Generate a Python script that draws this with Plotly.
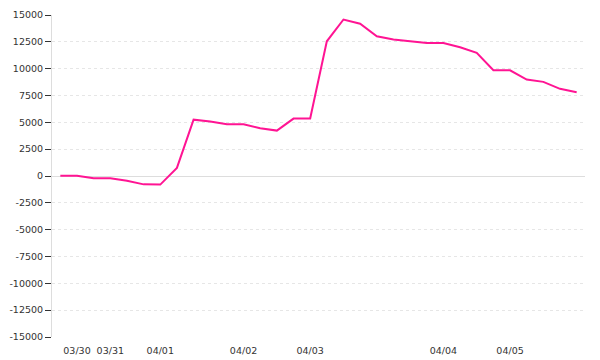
import plotly.graph_objects as go

# data
values = [30, 30, -220, -220, -440, -780, -800, 750, 5250, 5070, 4820, 4820,
          4440, 4230, 5350, 5350, 12550, 14580, 14190, 13020, 12720, 12560,
          12400, 12400, 12000, 11470, 9850, 9850, 8980, 8770, 8120, 7800]
tick_idx = [1, 3, 6, 11, 15, 23, 27]
tick_labels = ["03/30", "03/31", "04/01", "04/02", "04/03", "04/04", "04/05"]
y_ticks = list(range(-15000, 15001, 2500))

x = list(range(len(values)))

fig = go.Figure()
fig.add_trace(go.Scatter(x=x, y=values, mode="lines",
                         line=dict(color="#ff1493", width=2), hoverinfo="skip"))

font = dict(family="DejaVu Sans", size=9.5, color="#333333")
fig.update_layout(
    width=600, height=360,
    margin=dict(l=52, r=15, t=15, b=23),
    paper_bgcolor="white", plot_bgcolor="white",
    showlegend=False,
    font=font,
)
fig.update_xaxes(
    range=[-0.5, len(values) - 0.5],
    tickmode="array", tickvals=tick_idx, ticktext=tick_labels,
    showgrid=False, zeroline=False, showline=False, ticks="",
    tickfont=font, automargin=False, ticklabelstandoff=6,
)
fig.update_yaxes(
    range=[-15000, 15000],
    tickmode="array", tickvals=y_ticks, ticktext=[str(v) for v in y_ticks],
    showgrid=True, gridcolor="#e6e6e6", griddash="dot", gridwidth=1,
    zeroline=True, zerolinecolor="#dddddd", zerolinewidth=1,
    showline=True, linecolor="#dddddd", linewidth=1,
    ticks="outside", ticklen=6, tickcolor="#333333", tickwidth=1,
    tickfont=font, automargin=False,
)
fig.write_html("out.html")
